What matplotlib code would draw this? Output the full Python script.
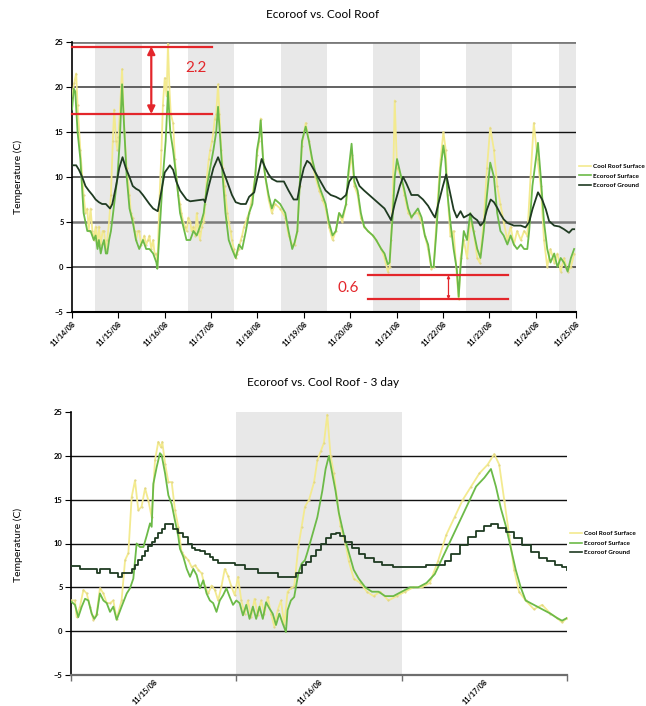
import matplotlib
matplotlib.use('Agg')
import matplotlib.pyplot as plt
from matplotlib.lines import Line2D

plt.rcParams['font.family'] = ['Lato', 'DejaVu Sans']

# ---------------- DATA: top chart (days since 11/14/08) ----------------
top_dates = ['11/14/08', '11/15/08', '11/16/08', '11/17/08', '11/18/08', '11/19/08',
             '11/20/08', '11/21/08', '11/22/08', '11/23/08', '11/24/08', '11/25/08']
top_tick_days = [0, 1, 2, 3, 4, 5, 6, 7, 8, 9, 10, 10.87]

top_cool_t = [0, 0.05, 0.09, 0.12, 0.18, 0.25, 0.29, 0.33, 0.36, 0.40, 0.44, 0.47, 0.51, 0.55, 0.58,
              0.62, 0.66, 0.69, 0.73, 0.76, 0.80, 0.84, 0.88, 0.91, 0.95, 0.98, 1.0, 1.03, 1.08, 1.13,
              1.18, 1.24, 1.27, 1.31, 1.35, 1.38, 1.42, 1.45, 1.49, 1.53, 1.56, 1.60, 1.64, 1.67, 1.71,
              1.75, 1.78, 1.82, 1.84, 1.89, 1.93, 1.96, 2.0, 2.04, 2.07, 2.10, 2.13, 2.18, 2.22, 2.25,
              2.29, 2.33, 2.36, 2.40, 2.44, 2.47, 2.51, 2.55, 2.58, 2.62, 2.66, 2.69, 2.73, 2.76, 2.80,
              2.84, 2.87, 2.91, 2.95, 2.98, 3.02, 3.05, 3.08, 3.11, 3.15, 3.18, 3.22, 3.25, 3.29, 3.31,
              3.35, 3.38, 3.42, 3.45, 3.49, 3.53, 3.56, 3.60, 3.64, 3.67, 3.71, 3.75, 3.78, 3.82, 3.86,
              3.89, 3.95, 3.99, 4.04, 4.07, 4.12, 4.17, 4.24, 4.31, 4.38, 4.49, 4.6, 4.67, 4.75, 4.8,
              4.86, 4.91, 4.96, 5.04, 5.11, 5.18, 5.25, 5.33, 5.4, 5.47, 5.54, 5.62, 5.69, 5.76, 5.83,
              5.91, 5.96, 6.03, 6.09, 6.16, 6.23, 6.3, 6.38, 6.49, 6.56, 6.67, 6.74, 6.81, 6.85, 6.88,
              6.92, 6.96, 7.01, 7.1, 7.17, 7.25, 7.32, 7.39, 7.46, 7.54, 7.61, 7.68, 7.75, 7.8, 7.86,
              7.92, 7.95, 8.01, 8.06, 8.1, 8.16, 8.23, 8.3, 8.34, 8.38, 8.45, 8.52, 8.59, 8.66, 8.74,
              8.79, 8.88, 8.95, 9.02, 9.1, 9.17, 9.24, 9.31, 9.39, 9.46, 9.53, 9.6, 9.68, 9.75, 9.82,
              9.89, 9.96, 10.04, 10.11, 10.18, 10.25, 10.32, 10.4, 10.47, 10.54, 10.61, 10.69, 10.76, 10.83]
top_cool_v = [19, 20.5, 21.5, 18, 13, 8, 6, 6.5, 4, 6.5, 4, 3, 4.5, 2.5, 4.5,
              2.5, 4, 4, 2, 3, 5, 8, 14, 17.5, 14, 13, 14.5, 17, 22, 15,
              11, 8, 6, 5.5, 4, 3, 4, 4, 2.5, 3, 3.5, 2.5, 3, 3.5, 2,
              3, 1.5, 1.5, 0, 8, 13, 18, 21, 19, 24.8, 20, 17, 16, 12, 10,
              8, 7, 6, 5, 4.5, 4, 5.5, 5, 4, 4.5, 3.5, 6, 4, 3, 4.5,
              5, 7, 10, 12, 13, 14, 15, 16.5, 17, 20.3, 17, 13, 11, 9, 8,
              6, 5, 4, 3, 2, 1, 1.5, 2, 3, 3.5, 4.5, 5, 5.5, 6, 7,
              8, 10, 12.5, 14, 16.5, 12, 10, 7.5, 6, 7, 6.5, 5.5, 3.5, 2.5, 2.5,
              4, 9, 13.5, 16, 14, 11.5, 10, 8.5, 7.5, 6.5, 4.5, 3, 4, 6, 5,
              7, 10, 12.5, 9, 8, 5.5, 4.5, 4, 3.5, 3, 2, 1, -0.5, 0, 3,
              8, 18.5, 11, 10, 8, 6, 5.5, 6, 6, 5, 3.5, 2, -0.2, 0, 5,
              10, 12, 15, 13, 8, 3.5, 4, -1, -3.6, 1, 3, 1, 5, 4, 1,
              0.5, 5, 11, 15.5, 13, 9, 7, 5, 3, 4.5, 2.5, 4, 3, 4, 3.5,
              10, 16, 12, 9, 3, 0, 2, 0.5, 1.5, -0.5, 1, -0.5, 0, 1.5]

top_eco_t = [0, 0.04, 0.07, 0.12, 0.18, 0.25, 0.33, 0.40, 0.47, 0.51, 0.55, 0.58, 0.62, 0.66, 0.69,
             0.73, 0.76, 0.80, 0.84, 0.91, 0.98, 1.03, 1.08, 1.13, 1.18, 1.24, 1.31, 1.38, 1.45, 1.53,
             1.60, 1.67, 1.75, 1.82, 1.84, 1.89, 1.96, 2.02, 2.07, 2.12, 2.18, 2.25, 2.33, 2.40, 2.47,
             2.55, 2.62, 2.69, 2.76, 2.84, 2.91, 2.98, 3.05, 3.11, 3.15, 3.20, 3.25, 3.31, 3.38, 3.45,
             3.53, 3.60, 3.67, 3.75, 3.82, 3.89, 3.95, 3.99, 4.04, 4.07, 4.12, 4.17, 4.24, 4.31, 4.38,
             4.49, 4.6, 4.67, 4.75, 4.8, 4.86, 4.91, 4.96, 5.04, 5.11, 5.18, 5.25, 5.33, 5.4, 5.47,
             5.54, 5.62, 5.69, 5.76, 5.83, 5.91, 5.96, 6.03, 6.09, 6.16, 6.23, 6.3, 6.38, 6.49, 6.56,
             6.67, 6.74, 6.81, 6.85, 6.88, 6.92, 6.96, 7.01, 7.1, 7.17, 7.25, 7.32, 7.39, 7.46, 7.54,
             7.61, 7.68, 7.75, 7.8, 7.86, 7.92, 7.95, 8.01, 8.05, 8.1, 8.16, 8.23, 8.3, 8.34, 8.38,
             8.45, 8.52, 8.59, 8.66, 8.74, 8.81, 8.88, 8.95, 9.02, 9.1, 9.17, 9.24, 9.31, 9.39, 9.46,
             9.53, 9.6, 9.68, 9.75, 9.82, 9.86, 9.93, 10.0, 10.05, 10.11, 10.18, 10.25, 10.32, 10.4, 10.47,
             10.54, 10.61, 10.69, 10.76, 10.83]
top_eco_v = [17.5, 19.8, 19.5, 15, 12, 6, 4, 4, 3, 3.5, 2, 3, 1.5, 2.5, 3,
             1.5, 1.5, 3, 4, 7, 10, 14, 20.3, 15, 10, 6.5, 5, 3, 2, 3,
             2, 2, 1.5, 0.5, -0.2, 4, 10, 14, 19.5, 15, 13, 10, 6, 4.5, 3,
             3, 4, 3.5, 4.5, 6, 9, 11, 13, 15, 17.8, 14, 10, 6, 3, 2,
             1, 2.5, 2, 4, 6, 7, 10, 13, 14.5, 16.3, 12, 10, 8, 6.5, 7.5,
             7, 6, 4, 2, 2.7, 4, 9, 14, 15.6, 14, 12, 10.5, 9, 8, 7,
             5, 3.5, 4, 6, 5.5, 7, 10.5, 13.7, 9.5, 8.5, 6, 4.5, 4, 3.5, 3,
             2, 1.5, 0.3, 0.5, 3, 6, 10, 12, 10, 8.5, 6.5, 5.5, 6, 6.5, 5.5,
             3.5, 2.5, 0, 0, 4, 9, 11, 13.5, 12, 8, 5, 2, -0.3, -3.3, 0,
             4, 3, 6, 4, 2, 1, 4, 8, 11.6, 10, 6, 4, 3.5, 2.5, 3.5,
             2.5, 2, 2.5, 2, 2, 4, 9, 11.8, 13.8, 10, 5, 2, 0.5, 1.5, 0,
             1, 0.5, -0.5, 1, 2]

top_ground_t = [0, 0.09, 0.15, 0.22, 0.29, 0.36, 0.44, 0.51, 0.58, 0.65, 0.73, 0.82, 0.87, 0.95, 1.02,
                1.09, 1.16, 1.24, 1.31, 1.38, 1.45, 1.53, 1.6, 1.67, 1.75, 1.85, 1.93, 2.0, 2.11, 2.18,
                2.25, 2.33, 2.4, 2.47, 2.55, 2.69, 2.84, 2.87, 2.95, 3.05, 3.15, 3.24, 3.31, 3.38, 3.45,
                3.53, 3.64, 3.75, 3.82, 3.93, 4.0, 4.09, 4.17, 4.24, 4.31, 4.42, 4.57, 4.67, 4.78, 4.86,
                4.93, 5.0, 5.07, 5.14, 5.25, 5.36, 5.47, 5.58, 5.69, 5.8, 5.91, 5.98, 6.05, 6.12, 6.2,
                6.3, 6.41, 6.52, 6.63, 6.74, 6.85, 6.88, 6.96, 7.07, 7.14, 7.21, 7.32, 7.46, 7.57, 7.68,
                7.79, 7.83, 7.9, 8.0, 8.07, 8.23, 8.3, 8.38, 8.45, 8.52, 8.59, 8.66, 8.74, 8.81, 8.88,
                8.95, 9.03, 9.1, 9.17, 9.24, 9.31, 9.39, 9.53, 9.68, 9.78, 9.86, 9.93, 10.05, 10.14, 10.22,
                10.29, 10.4, 10.51, 10.61, 10.72, 10.79, 10.83]
top_ground_v = [11.3, 11.3, 10.8, 10, 9, 8.5, 8, 7.5, 7.2, 7, 7, 6.5, 7, 9, 11,
                12.2, 11, 10, 9, 8.7, 8.5, 8, 7.5, 7, 6.5, 6.2, 8.5, 10.5, 11.3, 10.8,
                9.5, 8.5, 8, 7.5, 7.3, 7.4, 7.5, 7.2, 9, 11, 12.2, 11, 10, 9, 8,
                7.2, 7, 7, 7.8, 8.3, 10, 12, 11, 10.3, 9.8, 9.5, 9.5, 8.5, 7.5, 7.5,
                9.5, 11, 11.8, 11.5, 10.5, 9.5, 8.5, 8, 7.8, 7.5, 8, 9.5, 10, 10, 9,
                8.5, 8, 7.5, 7, 6.5, 5.5, 5.2, 7, 9, 10, 9.3, 8, 8, 7.5, 6.8,
                5.8, 5.5, 7, 9, 10.3, 6.4, 5.5, 6.2, 5.5, 5.7, 5.9, 5.5, 5.2, 4.6, 5,
                6.4, 7.5, 7.2, 6.6, 5.9, 5.3, 4.9, 4.6, 4.6, 4.4, 5, 6.4, 8.3, 7.5, 6.4,
                5.1, 4.6, 4.5, 4.2, 3.8, 4.2, 4.2]

# ---------------- DATA: bottom chart (days since 11/15/08) ----------------
bot_dates = ['11/15/08', '11/16/08', '11/17/08']

bot_cool_t = [0, 0.024, 0.034, 0.054, 0.075, 0.095, 0.115, 0.135, 0.155, 0.175, 0.196, 0.216, 0.236,
              0.256, 0.276, 0.306, 0.327, 0.347, 0.367, 0.387, 0.407, 0.427, 0.448, 0.468, 0.488,
              0.508, 0.528, 0.544, 0.552, 0.569, 0.589, 0.609, 0.629, 0.649, 0.669, 0.69, 0.71, 0.73,
              0.75, 0.77, 0.79, 0.81, 0.83, 0.85, 0.87, 0.89, 0.91, 0.93, 0.95, 0.97, 0.99, 1.01,
              1.03, 1.05, 1.07, 1.09, 1.11, 1.13, 1.15, 1.17, 1.19, 1.21, 1.23, 1.25, 1.27, 1.29,
              1.31, 1.33, 1.35, 1.375, 1.395, 1.415, 1.44, 1.47, 1.49, 1.51, 1.53, 1.55, 1.57, 1.59,
              1.61, 1.63, 1.66, 1.68, 1.71, 1.75, 1.79, 1.83, 1.87, 1.92, 1.97, 2.02, 2.07, 2.12,
              2.17, 2.22, 2.27, 2.32, 2.37, 2.42, 2.47, 2.52, 2.56, 2.59, 2.62, 2.65, 2.68, 2.71,
              2.75, 2.80, 2.85, 2.90, 2.94, 2.97, 3.0]
bot_cool_v = [3.5, 3.5, 1.6, 2.8, 4.7, 4.3, 2.8, 1.3, 2.0, 4.9, 4.3, 3.2, 3.2,
              3.5, 1.4, 3.5, 8.1, 8.9, 15.3, 17.2, 13.8, 14.2, 16.3, 14.9, 13.0,
              19.5, 21.6, 21.0, 21.6, 19.1, 17.0, 17.0, 13.8, 11.9, 9.0, 8.5, 8.1, 7.3,
              7.5, 7.0, 6.6, 5.1, 4.3, 5.2, 4.7, 3.5, 5.1, 7.1, 6.3, 5.1, 4.1, 6.2,
              3.5, 2.0, 3.5, 1.6, 3.7, 1.8, 3.5, 2.0, 3.9, 2.0, 0.5, 2.4, 3.5, 0.7,
              4.5, 4.9, 5.1, 9.6, 11.9, 14.2, 15, 17, 19.5, 20.5, 21.5, 24.7, 20, 18,
              15, 12, 10, 8, 6, 5.5, 4.5, 4, 4.5, 3.5, 4, 4.5, 5, 5,
              5.5, 8, 11, 13, 15, 16.5, 18, 19, 20.2, 19, 15, 11, 7, 4.5,
              3.5, 2.5, 3, 2, 1.5, 1, 1.5]

bot_eco_t = [0, 0.024, 0.044, 0.065, 0.085, 0.105, 0.125, 0.141, 0.155, 0.175, 0.196, 0.216, 0.236,
             0.256, 0.276, 0.306, 0.337, 0.357, 0.377, 0.397, 0.417, 0.438, 0.458, 0.478, 0.488,
             0.498, 0.518, 0.538, 0.548, 0.569, 0.589, 0.609, 0.629, 0.649, 0.659, 0.679, 0.70, 0.72,
             0.74, 0.76, 0.78, 0.80, 0.82, 0.84, 0.86, 0.88, 0.90, 0.92, 0.94, 0.96, 0.98, 1.0,
             1.02, 1.04, 1.06, 1.08, 1.10, 1.12, 1.14, 1.16, 1.18, 1.20, 1.22, 1.24, 1.26, 1.28,
             1.30, 1.31, 1.33, 1.35, 1.375, 1.395, 1.415, 1.43, 1.46, 1.49, 1.52, 1.54, 1.56, 1.58,
             1.60, 1.62, 1.65, 1.68, 1.71, 1.74, 1.78, 1.82, 1.86, 1.90, 1.95, 2.0, 2.05, 2.10,
             2.15, 2.20, 2.25, 2.30, 2.35, 2.40, 2.45, 2.50, 2.54, 2.57, 2.60, 2.63, 2.66, 2.69,
             2.72, 2.75, 2.80, 2.85, 2.90, 2.94, 2.97, 3.0]
bot_eco_v = [3.4, 3.0, 1.6, 2.8, 3.7, 3.5, 2.0, 1.4, 1.8, 4.3, 3.5, 3.2, 2.2,
             2.8, 1.3, 2.8, 4.3, 4.9, 6.0, 10.0, 9.6, 9.6, 10.9, 12.3, 11.9,
             16.8, 18.7, 20.3, 20.1, 18.0, 15.5, 14.5, 12.6, 10.8, 9.4, 8.5, 7.1, 6.2,
             7.1, 6.4, 4.9, 5.8, 4.3, 3.5, 3.2, 2.2, 3.5, 4.1, 4.9, 3.9, 3.0, 3.5,
             3.2, 1.8, 3.0, 1.4, 2.8, 1.4, 2.8, 1.4, 3.3, 2.6, 2.0, 0.7, 2.0, 0.9,
             -0.1, 2.4, 3.5, 3.9, 6.6, 7.7, 8.1, 9, 11, 13, 16, 18.5, 20.0, 18,
             16, 13.5, 11, 9, 7, 6, 5, 4.5, 4.5, 4, 4, 4.5, 5, 5,
             5.5, 6.5, 8.5, 10.5, 12.5, 14.5, 16.5, 17.5, 18.5, 16.5, 14, 12, 9.5, 7,
             5, 3.5, 3, 2.5, 2, 1.5, 1.2, 1.5]

bot_ground_t = [0, 0.044, 0.054, 0.145, 0.155, 0.175, 0.216, 0.236, 0.276, 0.286, 0.306, 0.367,
                0.387, 0.407, 0.427, 0.448, 0.468, 0.488, 0.508, 0.528, 0.548, 0.569, 0.599, 0.619,
                0.649, 0.679, 0.71, 0.73, 0.75, 0.78, 0.81, 0.84, 0.86, 0.89, 0.97, 0.99, 1.03, 1.05,
                1.11, 1.13, 1.23, 1.25, 1.34, 1.36, 1.40, 1.42, 1.45, 1.48, 1.51, 1.54, 1.57, 1.60,
                1.63, 1.66, 1.70, 1.74, 1.78, 1.83, 1.88, 1.95, 2.05, 2.15, 2.22, 2.26, 2.30, 2.35,
                2.40, 2.45, 2.50, 2.54, 2.58, 2.63, 2.68, 2.73, 2.78, 2.83, 2.88, 2.93, 2.97, 3.0]
bot_ground_v = [7.45, 7.45, 7.1, 7.1, 6.6, 7.1, 7.1, 6.6, 6.6, 6.2, 6.6, 7.1,
                7.5, 8.1, 8.6, 9.2, 9.7, 10.2, 10.6, 11.2, 11.7, 12.2, 12.2, 11.7,
                11.2, 10.7, 10.0, 9.5, 9.3, 9.1, 8.8, 8.5, 8.1, 7.8, 7.8, 7.5, 7.5, 7.1,
                7.1, 6.6, 6.6, 6.2, 6.2, 6.6, 7.5, 7.9, 8.6, 9.3, 10.0, 10.6, 11.1, 11.2,
                10.8, 10.2, 9.5, 8.8, 8.3, 7.9, 7.6, 7.3, 7.3, 7.5, 7.5, 8.0, 8.8, 9.8,
                10.7, 11.4, 12.0, 12.2, 11.8, 11.3, 10.6, 9.8, 9.0, 8.4, 8.0, 7.6, 7.3, 7.0]

series_labels = ['Cool Roof Surface', 'Ecoroof Surface', 'Ecoroof Ground']

# annotation values (temperature gaps)
top_gap = (24.5, 17.0, '2.2')
low_gap = (-0.9, -3.6, '0.6')

# ---------------- STYLE ----------------
W, H = 646, 706
C_COOL = '#f3ea8f'
C_COOL_DOT = '#e0d486'
C_ECO = '#6cba48'
C_GROUND = '#1f3b22'
RED = '#e3262b'
BAND = '#e8e8e8'

fig = plt.figure(figsize=(W / 100, H / 100), dpi=100)


def fx(px):
    return px / W


def fy(py):
    return 1 - py / H


def style_axis(ax):
    for s in ['top', 'right']:
        ax.spines[s].set_visible(False)
    ax.spines['left'].set_color('black')
    ax.spines['left'].set_linewidth(1.2)
    ax.set_ylim(-5, 25)
    ax.set_yticks(range(-5, 26, 5))
    ax.tick_params(axis='y', length=4, width=0.8, pad=2, labelsize=5.5)
    for lab in ax.get_yticklabels():
        lab.set_fontweight('bold')


def draw_series(ax, ct, cv, et, ev, gt, gv, ground_steps=False):
    ax.plot(ct, cv, color=C_COOL, lw=1.3, zorder=3, label=series_labels[0])
    ax.plot(ct, cv, ls='none', marker='.', ms=1.1, color=C_COOL_DOT, zorder=3)
    ax.plot(et, ev, color=C_ECO, lw=1.3, zorder=4, label=series_labels[1])
    ax.plot(gt, gv, color=C_GROUND, lw=1.3, zorder=5, label=series_labels[2],
            drawstyle='steps-post' if ground_steps else 'default')


def add_legend(ax, x_px, y_px):
    handles = [Line2D([], [], color=C_COOL, lw=1.2),
               Line2D([], [], color=C_ECO, lw=1.2),
               Line2D([], [], color=C_GROUND, lw=1.2)]
    leg = ax.legend(handles, series_labels, loc='center left',
                    bbox_to_anchor=(fx(x_px), fy(y_px)), bbox_transform=fig.transFigure,
                    frameon=False, fontsize=4.6, handlelength=1.9, handletextpad=0.35,
                    labelspacing=0.6, borderaxespad=0, borderpad=0)
    for t in leg.get_texts():
        t.set_fontweight('bold')


# ---------------- TOP CHART ----------------
ax1 = fig.add_axes([fx(72), fy(312), fx(576 - 72), (312 - 42) / H])
ax1.set_xlim(0, top_tick_days[-1])
style_axis(ax1)
for s in range(0, 11, 2):
    ax1.axvspan(s + 0.5, min(s + 1.5, top_tick_days[-1]), color=BAND, lw=0, zorder=0)
grid_top = {25: ('#7a7a7a', 2.0), 20: ('#555555', 1.3), 15: ('#111111', 1.0),
            10: ('#444444', 1.2), 5: ('#7a7a7a', 1.8), 0: ('#444444', 1.2)}
for lv, (c, lw) in grid_top.items():
    ax1.axhline(lv, color=c, lw=lw, zorder=1)
ax1.spines['bottom'].set_color('black')
ax1.spines['bottom'].set_linewidth(1.5)
ax1.set_xticks(top_tick_days)
ax1.set_xticklabels(top_dates, rotation=45, ha='right', rotation_mode='anchor',
                    fontsize=5.2, fontweight='bold')
ax1.tick_params(axis='x', length=4, width=0.8, pad=2)
draw_series(ax1, top_cool_t, top_cool_v, top_eco_t, top_eco_v, top_ground_t, top_ground_v)

# annotations
x0, x1, xa = 0, 3.02, 1.71
ax1.plot([x0, x1], [top_gap[0]] * 2, color=RED, lw=1.6, zorder=6, clip_on=False)
ax1.plot([x0, x1], [top_gap[1]] * 2, color=RED, lw=1.6, zorder=6, clip_on=False)
ax1.annotate('', xy=(xa, top_gap[1]), xytext=(xa, top_gap[0]),
             arrowprops=dict(arrowstyle='<|-|>', color=RED, lw=1.6, mutation_scale=11,
                             shrinkA=0, shrinkB=0), zorder=6)
ax1.text(2.68, 22.1, top_gap[2], color=RED, fontsize=11, ha='center', va='center', zorder=6)

x0, x1, xa = 6.39, 9.4, 8.12
ax1.plot([x0, x1], [low_gap[0]] * 2, color=RED, lw=1.6, zorder=6)
ax1.plot([x0, x1], [low_gap[1]] * 2, color=RED, lw=1.6, zorder=6)
ax1.annotate('', xy=(xa, low_gap[1]), xytext=(xa, low_gap[0]),
             arrowprops=dict(arrowstyle='<|-|>', color=RED, lw=0.9, mutation_scale=4,
                             shrinkA=0, shrinkB=0), zorder=6)
ax1.text(5.96, -2.35, low_gap[2], color=RED, fontsize=11, ha='center', va='center', zorder=6)

fig.text(fx(323), fy(15), 'Ecoroof vs. Cool Roof', ha='center', va='center', fontsize=8.5)
fig.text(fx(18), fy(177), 'Temperature (C)', rotation=90, ha='center', va='center', fontsize=7.5)
add_legend(ax1, 579, 176)

# ---------------- BOTTOM CHART ----------------
ax2 = fig.add_axes([fx(71), fy(675), fx(567 - 71), (675 - 412) / H])
ax2.set_xlim(0, 3)
style_axis(ax2)
ax2.axvspan(1, 2, color=BAND, lw=0, zorder=0)
for lv in [20, 15, 10, 5, 0]:
    ax2.axhline(lv, color='#111111', lw=1.0, zorder=1)
ax2.spines['bottom'].set_color('#6e6e6e')
ax2.spines['bottom'].set_linewidth(1.6)
ax2.set_xticks([0, 1, 2, 3])
ax2.set_xticklabels([])
ax2.tick_params(axis='x', which='major', length=4, width=1.0, color='#6e6e6e')
ax2.set_xticks([0.5, 1.5, 2.5], minor=True)
ax2.set_xticklabels(bot_dates, minor=True, rotation=45, ha='right', rotation_mode='anchor',
                    fontsize=5.2, fontweight='bold')
ax2.tick_params(axis='x', which='minor', length=0, pad=2)
draw_series(ax2, bot_cool_t, bot_cool_v, bot_eco_t, bot_eco_v, bot_ground_t, bot_ground_v,
            ground_steps=True)

fig.text(fx(323), fy(382), 'Ecoroof vs. Cool Roof - 3 day', ha='center', va='center', fontsize=8.5)
fig.text(fx(18), fy(545), 'Temperature (C)', rotation=90, ha='center', va='center', fontsize=7.5)
add_legend(ax2, 570, 543)

fig.savefig('out.png', dpi=100)
